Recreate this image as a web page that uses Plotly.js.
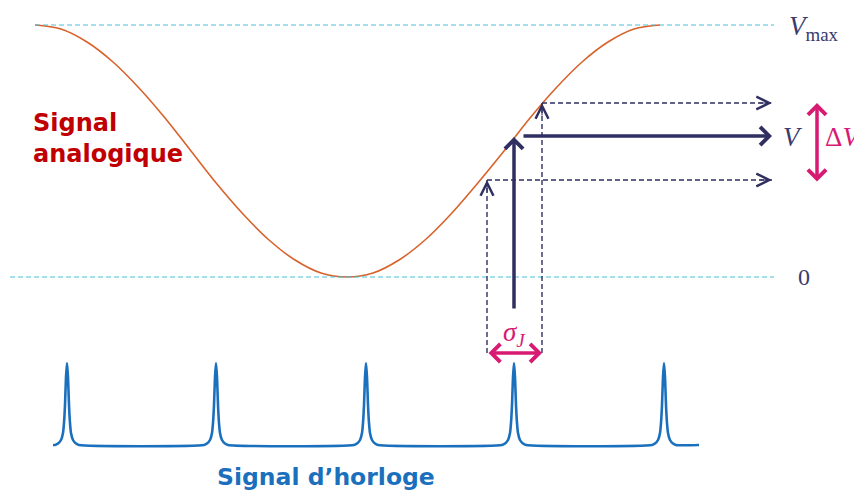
<!DOCTYPE html>
<html>
<head>
<meta charset="utf-8">
<script src="https://cdn.plot.ly/plotly-3.0.1.min.js"></script>
<style>html,body{margin:0;padding:0;background:#fff;overflow:hidden}#chart{width:854px;height:492px}</style>
</head>
<body>
<div id="chart"></div>
<script>
// Analog signal (orange curve)
const curveX = [35,61,87,113,139,165,191,217,243,269,295,321,347,373,399,425,451,477,504,530,556,582,608,634,660];
const curveY = [25,29,42,62,88,118,151,184,214,240,260,273,277,273,260,240,214,184,151,118,88,62,42,29,25];

// Clock signal (blue pulses)
const clockTicks = [67,216,366,514,664];
const pulseOffsets = [-12,-9,-6,-4,-3,-2,-1,0,1,2,3,4,6,9,12];
const pulseHeights = [0,1.5,5,12,22,40,68,82,68,40,22,12,5,1.5,0];
const clockBase = 445;
const clockRange = [53, 699];

// Reference levels
const levelVmax = 25;
const levelZero = 277;
const levelLines = [[35,774,levelVmax],[10,774,levelZero]];

// Sampling construction
const sampleT = 514, sampleV = 136;
const jitterT = [487, 542];
const jitterV = [180, 103];
const arrowEndX = 772;
const sampleFoot = 310;
const jitterFoot = 353;
const deltaVX = 817;

// Labels
const labels = {
  analog: 'Signal<br>analogique',
  clock: 'Signal d\u2019horloge',
  vmax: '<i>V</i><sub>max</sub>',
  v: '<i>V</i>',
  zero: '0',
  dv: '\u0394<i>V</i>',
  sigma: '<i>\u03c3</i><sub><i>J</i></sub>'
};

const navy = '#2f2f62';
const magenta = '#d81b72';
const cyan = '#4cbfd8';

// build clock trace
const cx = [clockRange[0]], cy = [clockBase];
clockTicks.forEach(t => {
  pulseOffsets.forEach((o, i) => { cx.push(t + o); cy.push(clockBase - pulseHeights[i]); });
});
cx.push(clockRange[1]); cy.push(clockBase);

const traces = [
  {x: curveX, y: curveY, mode: 'lines', line: {color: '#d8622a', width: 1.6, shape: 'spline', smoothing: 1}, hoverinfo: 'skip'},
  {x: cx, y: cy, mode: 'lines', line: {color: '#1b70bd', width: 2.6, shape: 'spline', smoothing: 0.6}, hoverinfo: 'skip'}
];

const shapes = [];
levelLines.forEach(l => shapes.push({type: 'line', x0: l[0], x1: l[1], y0: l[2], y1: l[2], line: {color: cyan, width: 1.2, dash: '5px,3px'}}));
// dashed jitter construction
[0,1].forEach(i => {
  shapes.push({type: 'line', x0: jitterT[i], x1: jitterT[i], y0: jitterFoot, y1: jitterV[i], line: {color: navy, width: 1.4, dash: '5px,3px'}});
  shapes.push({type: 'line', x0: jitterT[i], x1: arrowEndX, y0: jitterV[i], y1: jitterV[i], line: {color: navy, width: 1.4, dash: '5px,3px'}});
});

const ann = [];
// thick arrows
ann.push({x: sampleT, y: sampleV + 1, ax: sampleT, ay: sampleFoot, axref: 'x', ayref: 'y', xref: 'x', yref: 'y', text: '', showarrow: true, arrowhead: 4, arrowsize: 1, arrowwidth: 3.5, arrowcolor: navy});
ann.push({x: arrowEndX, y: sampleV, ax: sampleT + 8, ay: sampleV, axref: 'x', ayref: 'y', xref: 'x', yref: 'y', text: '', showarrow: true, arrowhead: 4, arrowsize: 1, arrowwidth: 3.5, arrowcolor: navy});
// open chevrons on dashed lines
[0,1].forEach(i => {
  ann.push({x: arrowEndX, y: jitterV[i], ax: -14, ay: 0, text: '', showarrow: true, arrowhead: 5, arrowsize: 2.3, arrowwidth: 1.1, arrowcolor: navy});
  ann.push({x: jitterT[i], y: jitterV[i], ax: 0, ay: 14, text: '', showarrow: true, arrowhead: 5, arrowsize: 2.3, arrowwidth: 1.1, arrowcolor: navy});
});
// magenta double arrows
ann.push({x: deltaVX, y: jitterV[1], ax: deltaVX, ay: jitterV[0] + 3, axref: 'x', ayref: 'y', text: '', showarrow: true, arrowhead: 4, startarrowhead: 4, arrowside: 'end+start', arrowsize: 1, startarrowsize: 1, arrowwidth: 3.5, arrowcolor: magenta});
ann.push({x: jitterT[1], y: jitterFoot, ax: jitterT[0], ay: jitterFoot, axref: 'x', ayref: 'y', text: '', showarrow: true, arrowhead: 4, startarrowhead: 4, arrowside: 'end+start', arrowsize: 1, startarrowsize: 1, arrowwidth: 3.5, arrowcolor: magenta});

// text labels
const serif = 'Liberation Serif, DejaVu Serif, serif';
const sans = 'DejaVu Sans, Lato, sans-serif';
ann.push({x: 31, y: 138, xanchor: 'left', yanchor: 'middle', text: labels.analog, showarrow: false, align: 'left', font: {family: sans, size: 24, color: '#c00000', weight: 'bold'}});
ann.push({x: 326, y: 477, xanchor: 'center', yanchor: 'middle', text: labels.clock, showarrow: false, font: {family: sans, size: 23.5, color: '#1b70bd', weight: 'bold'}});
ann.push({x: 787, y: levelVmax + 3, xanchor: 'left', yanchor: 'middle', text: labels.vmax, showarrow: false, font: {family: serif, size: 27, color: '#3b3b6e'}});
ann.push({x: 781, y: sampleV + 1, xanchor: 'left', yanchor: 'middle', text: labels.v, showarrow: false, font: {family: serif, size: 27, color: '#3b3b6e'}});
ann.push({x: 796, y: levelZero, xanchor: 'left', yanchor: 'middle', text: labels.zero, showarrow: false, font: {family: serif, size: 24, color: '#3b3b6e'}});
ann.push({x: 823, y: sampleV + 1, xanchor: 'left', yanchor: 'middle', text: labels.dv, showarrow: false, font: {family: serif, size: 27, color: magenta}});
ann.push({x: 514, y: 334, xanchor: 'center', yanchor: 'middle', text: labels.sigma, showarrow: false, font: {family: serif, size: 27, color: magenta}});

const layout = {
  width: 854, height: 492,
  margin: {l: 0, r: 0, t: 0, b: 0},
  paper_bgcolor: '#fff', plot_bgcolor: '#fff',
  showlegend: false,
  xaxis: {range: [0, 854], visible: false, fixedrange: true},
  yaxis: {range: [492, 0], visible: false, fixedrange: true},
  shapes: shapes,
  annotations: ann
};
Plotly.newPlot('chart', traces, layout, {staticPlot: true, displayModeBar: false});
</script>
</body>
</html>
